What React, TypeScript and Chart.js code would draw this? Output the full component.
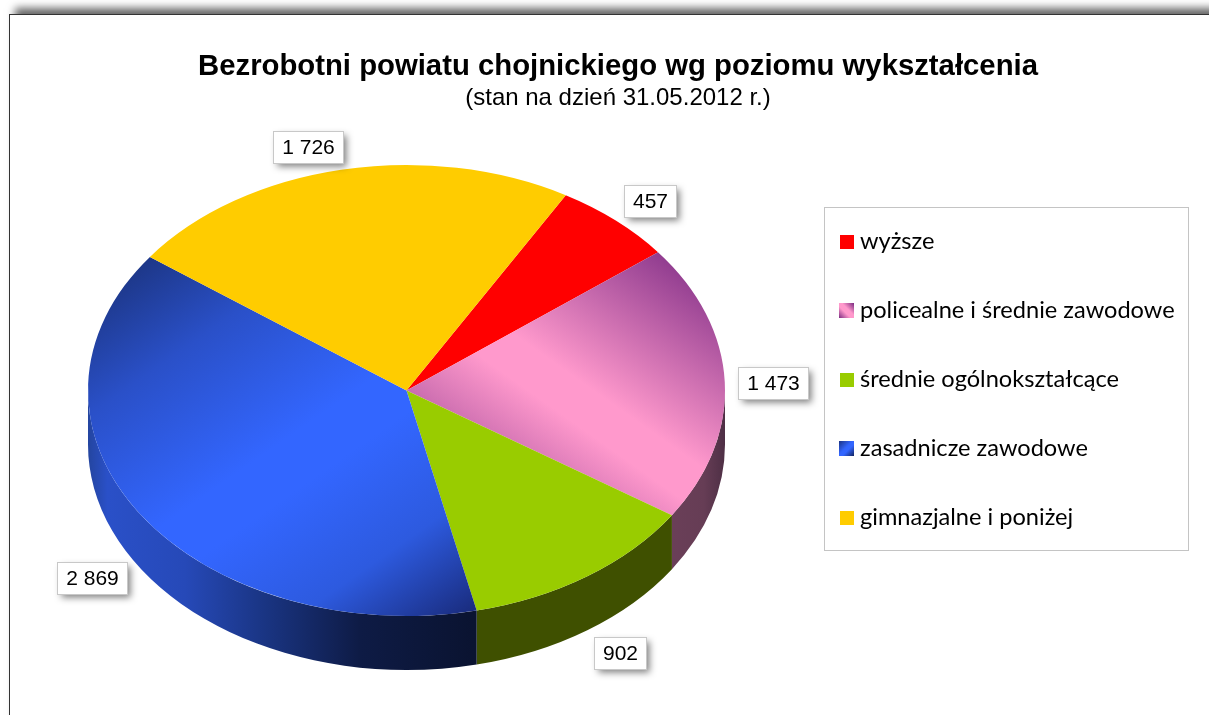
import React, { useEffect, useRef } from "react";
import { Chart, registerables } from "chart.js";

Chart.register(...registerables);

const categories = [
  "wyższe",
  "policealne i średnie zawodowe",
  "średnie ogólnokształcące",
  "zasadnicze zawodowe",
  "gimnazjalne i poniżej",
];
const values = [457, 1473, 902, 2869, 1726];
const titleText = "Bezrobotni powiatu chojnickiego wg poziomu wykształcenia";
const subtitleText = "(stan na dzień 31.05.2012 r.)";

const flatColors = ["#FF0000", "#FF99CC", "#99CC00", "#3366FF", "#FFCC00"];
// Label offset from the rim point at each slice's mid-angle
const labelOffsets = [
  [34, -20],
  [48, 1],
  [33, 77],
  [-48, 64],
  [-33, -23],
];

const OX = 10;
const OY = 15;
const CW = 1216;
const CH = 700;
const CX = 406.5 - OX;
const CY = 390.5 - OY;
const RX = 318.5;
const K = 225.5 / 318.5;
const DEPTH = 54;
const LEGEND_FONT = 23.6;

const toUserY = (y: number) => CY + (y - CY) / K;

// Linear gradient defined by on-screen points, usable under the pie's y-squash
function squashedGradient(
  ctx: CanvasRenderingContext2D,
  sx0: number, sy0: number, sx1: number, sy1: number,
  stops: [number, string][]
) {
  const x0 = sx0 - OX, y0 = sy0 - OY, x1 = sx1 - OX, y1 = sy1 - OY;
  const dx = x1 - x0, dy = y1 - y0;
  const d2 = dx * dx + dy * dy;
  const gx = dx / d2, gy = (dy * K) / d2;
  const g2 = gx * gx + gy * gy;
  const ux0 = x0, uy0 = toUserY(y0);
  const g = ctx.createLinearGradient(ux0, uy0, ux0 + gx / g2, uy0 + gy / g2);
  stops.forEach(([t, c]) => g.addColorStop(t, c));
  return g;
}

function sliceFill(c: any) {
  const i = c.dataIndex;
  const ctx = c.chart.ctx as CanvasRenderingContext2D;
  if (i === 1) {
    return squashedGradient(ctx, 481.4, 541.4, 678.6, 262.6, [
      [0, "#8E3A8E"],
      [0.44, "#FF99CC"],
      [0.55, "#FF99CC"],
      [1, "#8E3A8E"],
    ]);
  }
  if (i === 3) {
    return squashedGradient(ctx, 169, 243.5, 440, 632, [
      [0, "#1D3788"],
      [0.2, "#2A50C8"],
      [0.48, "#3366FF"],
      [0.58, "#3366FF"],
      [0.8, "#2D5ADF"],
      [1, "#1A2D80"],
    ]);
  }
  return flatColors[i];
}

function sideFill(ctx: CanvasRenderingContext2D, i: number) {
  if (i === 1) {
    const g = ctx.createLinearGradient(672 - OX, 0, 725 - OX, 0);
    g.addColorStop(0, "#6A3F58");
    g.addColorStop(0.6, "#663D55");
    g.addColorStop(1, "#4E2F45");
    return g;
  }
  if (i === 2) return "#3F5000";
  if (i === 3) {
    const g = ctx.createLinearGradient(88 - OX, 0, 477 - OX, 0);
    g.addColorStop(0, "#24459F");
    g.addColorStop(0.05, "#2A50C8");
    g.addColorStop(0.25, "#2649B8");
    g.addColorStop(0.45, "#1A3584");
    g.addColorStop(0.7, "#0E1B45");
    g.addColorStop(1, "#0A1330");
    return g;
  }
  return flatColors[i];
}

function makeSwatch(i: number) {
  const gradient = i === 1 || i === 3;
  const s = gradient ? 15 : 14;
  const cv = document.createElement("canvas");
  cv.width = s;
  cv.height = s;
  const c = cv.getContext("2d")!;
  if (i === 1) {
    const g = c.createLinearGradient(0, s, s, 0);
    g.addColorStop(0, "#7A2A80");
    g.addColorStop(0.4, "#FF99CC");
    g.addColorStop(0.6, "#FF99CC");
    g.addColorStop(1, "#7A2A80");
    c.fillStyle = g;
  } else if (i === 3) {
    const g = c.createLinearGradient(0, 0, s, s);
    g.addColorStop(0, "#1C3485");
    g.addColorStop(0.45, "#3366FF");
    g.addColorStop(0.6, "#3366FF");
    g.addColorStop(1, "#122258");
    c.fillStyle = g;
  } else {
    c.fillStyle = flatColors[i];
  }
  c.fillRect(0, 0, s, s);
  return cv;
}

const formatValue = (v: number) => String(v).replace(/\B(?=(\d{3})+$)/g, " ");

const pie3d = {
  id: "pie3d",
  afterLayout(chart: any) {
    const left = CX - RX, right = CX + RX, top = CY - RX, bottom = CY + RX;
    chart.chartArea = { left, right, top, bottom, width: right - left, height: bottom - top };
    const lg = chart.legend;
    const pad = chart.options.plugins.legend.labels.padding;
    const x = 844.8 - OX - pad;
    const y = 241.7 - OY - LEGEND_FONT / 2 - pad;
    lg.left = x;
    lg.top = y;
    lg.right = x + 400;
    lg.bottom = y + 400;
  },
  beforeDatasetsDraw(chart: any) {
    const ctx = chart.ctx as CanvasRenderingContext2D;
    const ry = RX * K;
    chart.getDatasetMeta(0).data.forEach((arc: any, i: number) => {
      const s = Math.max(arc.startAngle, 0);
      const e = Math.min(arc.endAngle, Math.PI);
      if (e <= s) return;
      ctx.beginPath();
      ctx.ellipse(arc.x, arc.y, RX, ry, 0, s, e);
      ctx.ellipse(arc.x, arc.y + DEPTH, RX, ry, 0, e, s, true);
      ctx.closePath();
      ctx.fillStyle = sideFill(ctx, i);
      ctx.fill();
    });
    ctx.save();
    ctx.translate(0, CY);
    ctx.scale(1, K);
    ctx.translate(0, -CY);
  },
  afterDatasetsDraw(chart: any) {
    chart.ctx.restore();
  },
  afterDraw(chart: any) {
    const ctx = chart.ctx as CanvasRenderingContext2D;
    // legend frame
    ctx.save();
    ctx.strokeStyle = "#C4C4C4";
    ctx.lineWidth = 1;
    ctx.strokeRect(824.5 - OX, 207.5 - OY, 364, 343);
    ctx.restore();
    // value labels
    chart.getDatasetMeta(0).data.forEach((arc: any, i: number) => {
      const mid = (arc.startAngle + arc.endAngle) / 2;
      const x = arc.x + RX * Math.cos(mid) + labelOffsets[i][0];
      const y = arc.y + RX * K * Math.sin(mid) + labelOffsets[i][1];
      const text = formatValue(values[i]);
      ctx.save();
      ctx.font = '21px "Liberation Sans"';
      const w = Math.round(ctx.measureText(text).width) + 17;
      const h = 32;
      const bx = Math.round(x - w / 2) + 0.5;
      const by = Math.round(y - h / 2) + 0.5;
      ctx.save();
      ctx.shadowColor = "rgba(0,0,0,0.5)";
      ctx.shadowBlur = 7;
      ctx.shadowOffsetX = 3;
      ctx.shadowOffsetY = 3;
      ctx.fillStyle = "#FFFFFF";
      ctx.fillRect(bx, by, w, h);
      ctx.restore();
      ctx.strokeStyle = "#C8C8C8";
      ctx.strokeRect(bx, by, w, h);
      ctx.fillStyle = "#000000";
      ctx.textAlign = "center";
      ctx.textBaseline = "middle";
      ctx.fillText(text, bx + w / 2, by + h / 2 + 1);
      ctx.restore();
    });
  },
};

export default function App() {
  const ref = useRef<HTMLCanvasElement | null>(null);
  useEffect(() => {
    const chart = new Chart(ref.current!, {
      type: "pie",
      data: {
        labels: categories,
        datasets: [
          {
            data: values,
            backgroundColor: sliceFill as any,
            borderWidth: 0,
            hoverOffset: 0,
            clip: false as any,
          },
        ],
      },
      options: {
        responsive: false,
        animation: false,
        rotation: 30,
        events: [],
        layout: { padding: 0 },
        plugins: {
          tooltip: { enabled: false },
          title: {
            display: true,
            text: titleText,
            color: "#000000",
            font: { family: '"Liberation Sans"', size: 29.3, weight: "bold", lineHeight: 1.16 },
            padding: { top: 35, bottom: 0 },
          },
          subtitle: {
            display: true,
            text: subtitleText,
            color: "#000000",
            font: { family: '"Liberation Sans"', size: 24, weight: "normal", lineHeight: 1.2 },
            padding: { top: 0, bottom: 0 },
          },
          legend: {
            display: true,
            position: "right",
            align: "start",
            labels: {
              usePointStyle: true,
              pointStyleWidth: 3.4,
              boxWidth: 3.4,
              boxHeight: 4,
              padding: 69 - LEGEND_FONT,
              color: "#000000",
              font: { family: "Lato", size: LEGEND_FONT, lineHeight: 1 },
              generateLabels: () =>
                categories.map((text, i) => ({
                  text,
                  index: i,
                  hidden: false,
                  lineWidth: 0,
                  fillStyle: flatColors[i],
                  strokeStyle: flatColors[i],
                  fontColor: "#000000",
                  pointStyle: makeSwatch(i) as any,
                })),
            },
          },
        },
      },
      plugins: [pie3d],
    } as any);
    return () => chart.destroy();
  }, []);
  return (
    <div
      style={{
        position: "fixed",
        left: 0,
        top: 0,
        width: 1209,
        height: 715,
        overflow: "hidden",
        background: "#fff",
      }}
    >
      <div
        style={{
          position: "absolute",
          left: 9,
          top: 14,
          width: CW,
          height: CH + 20,
          borderLeft: "1px solid #333",
          borderTop: "1px solid #333",
          boxShadow: "6px -6px 8px rgba(0,0,0,0.6)",
          background: "#fff",
        }}
      >
        <canvas ref={ref} width={CW} height={CH} style={{ display: "block" }} />
      </div>
    </div>
  );
}
